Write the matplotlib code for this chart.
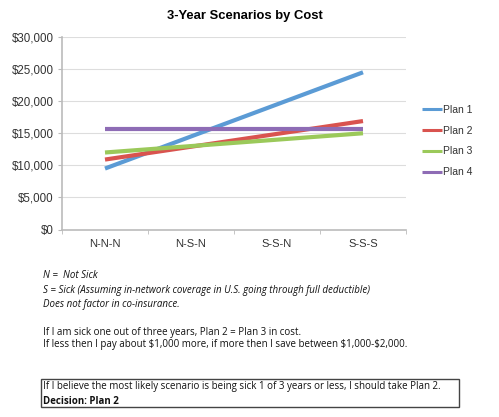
import matplotlib
matplotlib.use("Agg")
import matplotlib.pyplot as plt
from matplotlib.patches import Rectangle

categories = ["N-N-N", "N-S-N", "S-S-N", "S-S-S"]
plan1 = [9500, 14500, 19500, 24500]
plan2 = [10900, 12900, 14900, 16900]
plan3 = [12000, 13000, 14000, 15000]
plan4 = [15700, 15700, 15700, 15700]
series = {"Plan 1": plan1, "Plan 2": plan2, "Plan 3": plan3, "Plan 4": plan4}
colors = {"Plan 1": "#5b9bd5", "Plan 2": "#d9534f", "Plan 3": "#9bc95a", "Plan 4": "#8e6cb5"}
yticks = [0, 5000, 10000, 15000, 20000, 25000, 30000]
ytick_labels = ["$0", "$5,000", "$10,000", "$15,000", "$20,000", "$25,000", "$30,000"]

W, H = 499, 417
fig = plt.figure(figsize=(W / 100, H / 100), dpi=100)
fig.patch.set_facecolor("white")
plt.rcParams["font.family"] = ["Liberation Sans", "DejaVu Sans"]

ax_top, ax_bot = 37, 229.5
ax = fig.add_axes([62 / W, 1 - ax_bot / H, (406 - 62) / W, (ax_bot - ax_top) / H])
x = list(range(len(categories)))
for name, vals in series.items():
    ax.plot(x, vals, color=colors[name], lw=3, label=name, solid_capstyle="butt")

ax.set_xlim(-0.5, len(categories) - 0.5)
ax.set_ylim(0, 30000)
ax.set_yticks(yticks)
ax.set_yticklabels(ytick_labels, fontsize=8.3, color="#333333")
ax.set_xticks(x)
ax.set_xticklabels(categories, fontsize=8, color="#333333")
ax.set_xticks([i + 0.5 for i in range(-1, len(categories))], minor=True)
ax.tick_params(axis="x", which="major", length=0, pad=7)
ax.tick_params(axis="x", which="minor", length=3, color="#bbbbbb")
ax.tick_params(axis="y", length=3, color="#bbbbbb", pad=3)
ax.grid(axis="y", color="#dddddd", lw=0.8)
ax.set_axisbelow(True)
for s in ["top", "right"]:
    ax.spines[s].set_visible(False)
for s in ["left", "bottom"]:
    ax.spines[s].set_color("#bbbbbb")
    ax.spines[s].set_linewidth(1.2)

leg_cy = (ax_bot - 141) / (ax_bot - ax_top)
leg = ax.legend(loc="center left", bbox_to_anchor=((422 - 62) / 344, leg_cy), frameon=False,
                fontsize=7.5, handlelength=1.95, handletextpad=0.05, labelspacing=1.05,
                borderaxespad=0, borderpad=0)
for h in leg.get_lines():
    h.set_linewidth(2.2)
for t in leg.get_texts():
    t.set_color("#333333")

fig.text(244.5 / W, 1 - 16 / H, "3-Year Scenarios by Cost", ha="center", va="center",
         fontsize=9.4, fontweight="bold")

tfont = ["Open Sans", "DejaVu Sans"]
fs = 7.0
lines_italic = ["N =  Not Sick",
                "S = Sick (Assuming in-network coverage in U.S. going through full deductible)",
                "Does not factor in co-insurance."]
for t, yy in zip(lines_italic, [276, 290, 304]):
    fig.text(43 / W, 1 - yy / H, t, fontsize=fs, style="italic", family=tfont,
             va="center", ha="left", color="#111111")
lines2 = ["If I am sick one out of three years, Plan 2 = Plan 3 in cost.",
          "If less then I pay about $1,000 more, if more then I save between $1,000-$2,000."]
for t, yy in zip(lines2, [332, 345]):
    fig.text(43 / W, 1 - yy / H, t, fontsize=fs, family=tfont,
             va="center", ha="left", color="#111111")

fig.patches.append(Rectangle((41 / W, 1 - 407 / H), (459 - 41) / W, (407 - 379) / H,
                             transform=fig.transFigure, fill=False, ec="#444444", lw=1))
fig.text(43 / W, 1 - 387 / H,
         "If I believe the most likely scenario is being sick 1 of 3 years or less, I should take Plan 2.",
         fontsize=fs, family=tfont, va="center", ha="left", color="#111111")
fig.text(43 / W, 1 - 401 / H, "Decision: Plan 2", fontsize=fs, family=tfont,
         fontweight="bold", va="center", ha="left", color="#111111")

fig.savefig("out.png", dpi=100, facecolor="white")
